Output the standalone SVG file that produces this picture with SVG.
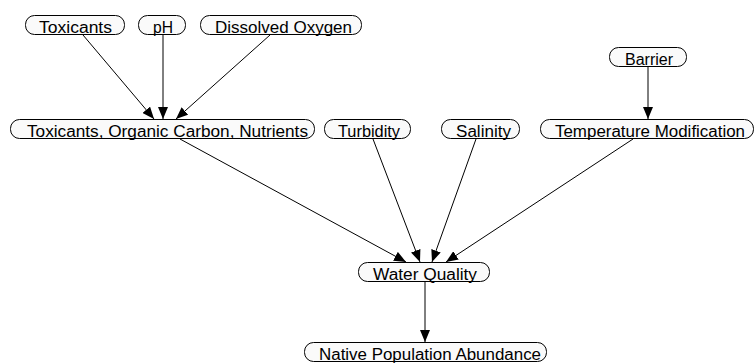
<svg xmlns="http://www.w3.org/2000/svg" width="755" height="363" viewBox="0 0 755 363">
  <style>
    .node rect { fill: #fafafa; stroke: #000; stroke-width: 1; }
    .node text { font-family: "Liberation Sans", Arial, sans-serif; font-size: 16px; fill: #000; }
    .edges line { stroke: #000; stroke-width: 1; marker-end: url(#arrow); }
  </style>
  <defs>
    <marker id="arrow" markerUnits="userSpaceOnUse" markerWidth="12" markerHeight="10" refX="12" refY="5" orient="auto">
      <path d="M0,0 L12,5 L0,10 Z" fill="#000"/>
    </marker>
  </defs>

  <g class="edges">
    <line x1="83" y1="35" x2="154" y2="119"/>
    <line x1="163" y1="35" x2="163" y2="119"/>
    <line x1="270" y1="35" x2="176" y2="119"/>
    <line x1="648" y1="67" x2="648" y2="119"/>
    <line x1="180" y1="139" x2="406" y2="262"/>
    <line x1="373" y1="139" x2="420" y2="262"/>
    <line x1="476" y1="139" x2="432" y2="262"/>
    <line x1="633" y1="139" x2="446" y2="262"/>
    <line x1="425" y1="282" x2="425" y2="342"/>
  </g>

  <g id="toxicants" class="node">
    <rect x="25.5" y="15.5" width="99" height="19" rx="9" ry="9"/>
    <text x="39" y="33" textLength="73" lengthAdjust="spacingAndGlyphs">Toxicants</text>
  </g>
  <g id="ph" class="node">
    <rect x="138.5" y="15.5" width="47" height="19" rx="9" ry="9"/>
    <text x="153" y="33" textLength="20" lengthAdjust="spacingAndGlyphs">pH</text>
  </g>
  <g id="dissolved-oxygen" class="node">
    <rect x="200.5" y="15.5" width="161" height="19" rx="9" ry="9"/>
    <text x="215" y="33" textLength="137" lengthAdjust="spacingAndGlyphs">Dissolved Oxygen</text>
  </g>
  <g id="barrier" class="node">
    <rect x="609.5" y="47.5" width="77" height="19" rx="9" ry="9"/>
    <text x="625" y="65" textLength="48" lengthAdjust="spacingAndGlyphs">Barrier</text>
  </g>
  <g id="toxicants-organic-carbon-nutrients" class="node">
    <rect x="10.5" y="119.5" width="304" height="19" rx="9" ry="9"/>
    <text x="27" y="137" textLength="281" lengthAdjust="spacingAndGlyphs">Toxicants, Organic Carbon, Nutrients</text>
  </g>
  <g id="turbidity" class="node">
    <rect x="324.5" y="119.5" width="86" height="19" rx="9" ry="9"/>
    <text x="338" y="137" textLength="62" lengthAdjust="spacingAndGlyphs">Turbidity</text>
  </g>
  <g id="salinity" class="node">
    <rect x="441.5" y="119.5" width="78" height="19" rx="9" ry="9"/>
    <text x="456" y="137" textLength="55" lengthAdjust="spacingAndGlyphs">Salinity</text>
  </g>
  <g id="temperature-modification" class="node">
    <rect x="540.5" y="119.5" width="213" height="19" rx="9" ry="9"/>
    <text x="555" y="137" textLength="190" lengthAdjust="spacingAndGlyphs">Temperature Modification</text>
  </g>
  <g id="water-quality" class="node">
    <rect x="358.5" y="262.5" width="131" height="19" rx="9" ry="9"/>
    <text x="373" y="280" textLength="104" lengthAdjust="spacingAndGlyphs">Water Quality</text>
  </g>
  <g id="native-population-abundance" class="node">
    <rect x="304.5" y="342.5" width="242" height="19" rx="9" ry="9"/>
    <text x="319" y="360" textLength="222" lengthAdjust="spacingAndGlyphs">Native Population Abundance</text>
  </g>
</svg>
